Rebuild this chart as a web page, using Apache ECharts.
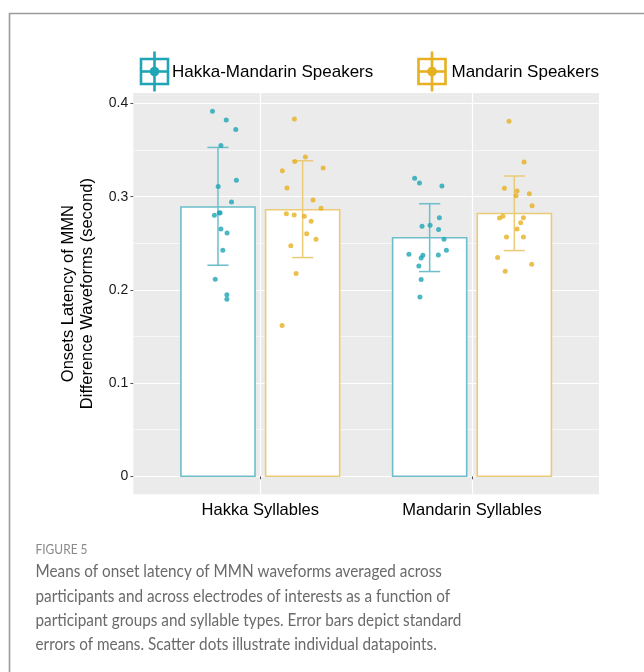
<!DOCTYPE html>
<html>
<head>
<meta charset="utf-8">
<title>Onset latency of MMN waveforms</title>
<script src="https://cdn.jsdelivr.net/npm/echarts@6/dist/echarts.min.js"></script>
<style>
  html, body { margin: 0; padding: 0; background: #ffffff; }
  #chart { width: 644px; height: 672px; }
</style>
</head>
<body>
<div id="chart"></div>
<script>
// ---- data ----
const categories = ['Hakka Syllables', 'Mandarin Syllables'];
const groupNames = ['Hakka-Mandarin Speakers', 'Mandarin Speakers'];

// group means (seconds), one value per syllable type
const meanHakkaMandarin = [0.289, 0.256];
const meanMandarin = [0.286, 0.282];

// mean ± standard error limits
const seLowHakkaMandarin = [0.2265, 0.2197];
const seHighHakkaMandarin = [0.3529, 0.2925];
const seLowMandarin = [0.2347, 0.2422];
const seHighMandarin = [0.3386, 0.3222];

const yTickValues = [0, 0.1, 0.2, 0.3, 0.4];
const yMinorValues = [0.05, 0.15, 0.25, 0.35];

// individual participants: [jittered x position in category units, latency]
const dotsHMHakka = [
  [0.774, 0.3918], [0.839, 0.3822], [0.884, 0.3722], [0.814, 0.3551],
  [0.887, 0.3176], [0.801, 0.3111], [0.864, 0.2943], [0.806, 0.2825],
  [0.783, 0.2801], [0.810, 0.2829], [0.814, 0.2654], [0.843, 0.2611],
  [0.823, 0.2426], [0.787, 0.2115], [0.842, 0.1947], [0.842, 0.1901]
];
const dotsMHakka = [
  [1.161, 0.3833], [1.213, 0.3425], [1.163, 0.3379], [1.297, 0.3308],
  [1.104, 0.3279], [1.126, 0.3093], [1.249, 0.2965], [1.287, 0.2876],
  [1.123, 0.2818], [1.160, 0.2804], [1.208, 0.2790], [1.240, 0.2736],
  [1.219, 0.2604], [1.263, 0.2543], [1.144, 0.2475], [1.169, 0.2175],
  [1.103, 0.1618]
];
const dotsHMMandarin = [
  [1.729, 0.3197], [1.752, 0.3147], [1.858, 0.3115], [1.846, 0.2775],
  [1.764, 0.2683], [1.802, 0.2693], [1.842, 0.2647], [1.868, 0.2543],
  [1.879, 0.2426], [1.702, 0.2383], [1.768, 0.2372], [1.760, 0.2343],
  [1.841, 0.2375], [1.749, 0.2258], [1.760, 0.2111], [1.754, 0.1925]
];
const dotsMMandarin = [
  [2.175, 0.3811], [2.246, 0.3372], [2.153, 0.3090], [2.213, 0.3061],
  [2.271, 0.3033], [2.208, 0.3011], [2.284, 0.2904], [2.130, 0.2772],
  [2.146, 0.2790], [2.243, 0.2775], [2.230, 0.2722], [2.213, 0.2654],
  [2.163, 0.2568], [2.243, 0.2568], [2.121, 0.2347], [2.282, 0.2276],
  [2.157, 0.2201]
];

// ---- styling ----
const TEAL = '#1fa5b5';
const TEAL_SOFT = '#6cbfca';
const GOLD = '#e6b020';
const GOLD_SOFT = '#eccb78';
const FONT = '"Liberation Sans", Arial, Helvetica, sans-serif';
const CAPTION_FONT = 'Lato, "Open Sans", sans-serif';
const DODGE = 0.2;      // offset of each group from the category centre
const BAR_HALF = 0.175; // half bar width, category units
const CAP_HALF = 0.05;  // half error-bar cap width, category units

const catPos = categories.map((_, i) => i + 1);

function barData(means, sign) {
  return means.map((m, i) => [catPos[i] + sign * DODGE, m]);
}
function errData(lows, highs, sign) {
  return lows.map((lo, i) => [catPos[i] + sign * DODGE, lo, highs[i]]);
}

function renderBar(color) {
  return function (params, api) {
    const x = api.value(0);
    const y = api.value(1);
    const p0 = api.coord([x - BAR_HALF, 0]);
    const p1 = api.coord([x + BAR_HALF, y]);
    return {
      type: 'rect',
      shape: { x: p0[0], y: p1[1], width: p1[0] - p0[0], height: p0[1] - p1[1] },
      style: { fill: '#ffffff', stroke: color, lineWidth: 1.6 }
    };
  };
}

function renderErr(color) {
  return function (params, api) {
    const x = api.value(0);
    const lo = api.coord([x, api.value(1)]);
    const hi = api.coord([x, api.value(2)]);
    const half = api.coord([x + CAP_HALF, 0])[0] - lo[0];
    const st = { stroke: color, lineWidth: 1.5 };
    return {
      type: 'group',
      children: [
        { type: 'line', shape: { x1: lo[0], y1: lo[1], x2: hi[0], y2: hi[1] }, style: st },
        { type: 'line', shape: { x1: lo[0] - half, y1: lo[1], x2: lo[0] + half, y2: lo[1] }, style: st },
        { type: 'line', shape: { x1: hi[0] - half, y1: hi[1], x2: hi[0] + half, y2: hi[1] }, style: st }
      ]
    };
  };
}

function legendIcon(cx, cy, color) {
  const st = { stroke: color, lineWidth: 2.6, fill: null };
  return [
    { type: 'rect', shape: { x: cx - 13.5, y: cy - 12.5, width: 27, height: 25 },
      style: { fill: '#ffffff', stroke: color, lineWidth: 2.6 } },
    { type: 'line', shape: { x1: cx, y1: cy - 20, x2: cx, y2: cy + 20 }, style: st },
    { type: 'line', shape: { x1: cx - 13.5, y1: cy, x2: cx + 13.5, y2: cy }, style: st },
    { type: 'circle', shape: { cx: cx, cy: cy, r: 4.8 }, style: { fill: color } }
  ];
}

const captionLines = [
  'Means of onset latency of MMN waveforms averaged across',
  'participants and across electrodes of interests as a function of',
  'participant groups and syllable types. Error bars depict standard',
  'errors of means. Scatter dots illustrate individual datapoints.'
];

const chart = echarts.init(document.getElementById('chart'), null, { renderer: 'canvas' });

const Y_MIN = -0.0193;
const Y_MAX = 0.4113;

const option = {
  backgroundColor: '#ffffff',
  animation: false,
  grid: {
    left: 133.3, right: 45, top: 93, bottom: 177.7,
    show: true, backgroundColor: '#ebebeb', borderWidth: 0
  },
  xAxis: {
    type: 'value', min: 0.4, max: 2.6,
    axisLine: { show: false },
    axisTick: { show: true, customValues: catPos, length: 3, lineStyle: { color: '#555555', width: 1 } },
    axisLabel: {
      customValues: catPos,
      formatter: v => categories[Math.round(v) - 1] || '',
      color: '#000000', fontSize: 16.5, fontFamily: FONT, margin: 8
    },
    splitLine: { show: true, lineStyle: { color: '#ffffff', width: 1.2 } }
  },
  yAxis: [
    {
      type: 'value', min: Y_MIN, max: Y_MAX,
      axisLine: { show: false },
      axisTick: { show: true, customValues: yTickValues, length: 3, lineStyle: { color: '#555555', width: 1 } },
      axisLabel: {
        customValues: yTickValues,
        formatter: v => (v === 0 ? '0' : String(+v.toFixed(1))),
        color: '#1a1a1a', fontSize: 14, fontFamily: FONT, margin: 5
      },
      splitLine: { show: true, lineStyle: { color: '#ffffff', width: 1.2 } },
      name: 'Onsets Latency of MMN\nDifference Waveforms (second)',
      nameLocation: 'middle', nameGap: 36, nameRotate: 90,
      nameTextStyle: { color: '#000000', fontSize: 16.5, lineHeight: 19, fontFamily: FONT, align: 'center' }
    },
    {
      type: 'value', min: Y_MIN, max: Y_MAX,
      axisLine: { show: false },
      axisTick: { show: false, customValues: yMinorValues },
      axisLabel: { show: false, customValues: yMinorValues },
      splitLine: { show: true, lineStyle: { color: '#ffffff', width: 0.6 } }
    }
  ],
  series: [
    { type: 'custom', name: groupNames[0], renderItem: renderBar(TEAL_SOFT),
      data: barData(meanHakkaMandarin, -1), z: 2 },
    { type: 'custom', name: groupNames[1], renderItem: renderBar(GOLD_SOFT),
      data: barData(meanMandarin, 1), z: 2 },
    { type: 'custom', renderItem: renderErr(TEAL_SOFT),
      data: errData(seLowHakkaMandarin, seHighHakkaMandarin, -1), z: 3 },
    { type: 'custom', renderItem: renderErr(GOLD_SOFT),
      data: errData(seLowMandarin, seHighMandarin, 1), z: 3 },
    { type: 'scatter', symbolSize: 5, itemStyle: { color: TEAL }, z: 4,
      data: dotsHMHakka.concat(dotsHMMandarin) },
    { type: 'scatter', symbolSize: 5, itemStyle: { color: GOLD }, z: 4,
      data: dotsMHakka.concat(dotsMMandarin) }
  ],
  graphic: [
    // page frame
    { type: 'polyline', shape: { points: [[9.5, 680], [9.5, 13.5], [650, 13.5]] },
      style: { stroke: '#9b9b9b', lineWidth: 1.6, fill: null }, silent: true },
    // legend
    ...legendIcon(154.5, 71.5, TEAL),
    { type: 'text', x: 172, y: 72, style: { text: groupNames[0], fill: '#000000', font: '17px ' + FONT, verticalAlign: 'middle' } },
    ...legendIcon(432, 71.5, GOLD),
    { type: 'text', x: 451.5, y: 72, style: { text: groupNames[1], fill: '#000000', font: '17px ' + FONT, verticalAlign: 'middle' } },
    // caption
    { type: 'text', x: 35.5, y: 549.5, scaleX: 0.92,
      style: { text: 'FIGURE 5', fill: '#8a8a8a', font: '13px ' + CAPTION_FONT, verticalAlign: 'middle' } },
    ...captionLines.map((t, i) => ({
      type: 'text', x: 35.5, y: 572 + i * 24.3, scaleX: 0.928,
      style: { text: t, fill: '#6a6a6a', font: '16.5px ' + CAPTION_FONT, verticalAlign: 'middle' }
    }))
  ]
};

chart.setOption(option);
</script>
</body>
</html>
